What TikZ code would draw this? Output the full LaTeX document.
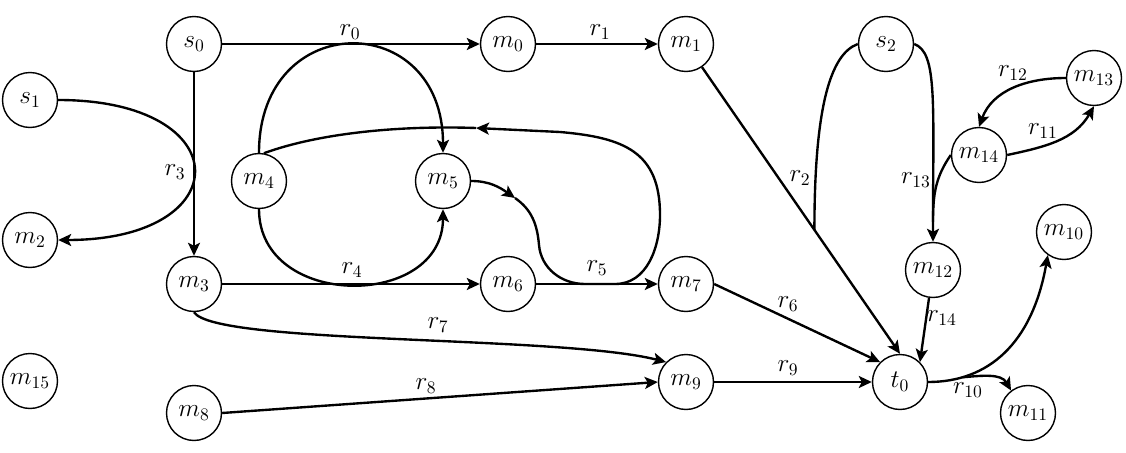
\documentclass[tikz,border=0pt]{standalone}
\usetikzlibrary{arrows.meta,calc}
\begin{document}
\begin{tikzpicture}[x=0.02cm,y=0.02cm,
  st/.style={circle,draw,line width=0.8pt,minimum size=1.1cm,inner sep=0pt,font=\fontsize{14}{16}\selectfont},
  conn/.style={line width=1.35pt},
  arr/.style={-{Stealth[length=2.6mm,width=2.4mm,inset=0.6mm]}},
  lbl/.style={inner sep=0pt,font=\fontsize{14}{16}\selectfont}]
\useasboundingbox (0,0) rectangle (1126,-453);
% nodes
\node[st] (s0) at (194,-44) {$s_0$};
\node[st] (m0) at (508,-44) {$m_0$};
\node[st] (m1) at (686,-44) {$m_1$};
\node[st] (s2) at (886,-44) {$s_2$};
\node[st] (s1) at (30,-100) {$s_1$};
\node[st] (m13) at (1094,-78) {$m_{13}$};
\node[st] (m4) at (259,-181) {$m_4$};
\node[st] (m5) at (443,-181) {$m_5$};
\node[st] (m14) at (979,-155) {$m_{14}$};
\node[st] (m2) at (30,-240) {$m_2$};
\node[st] (m10) at (1064,-232) {$m_{10}$};
\node[st] (m12) at (933,-270) {$m_{12}$};
\node[st] (m3) at (194,-284) {$m_3$};
\node[st] (m6) at (508,-284) {$m_6$};
\node[st] (m7) at (686,-284) {$m_7$};
\node[st] (m15) at (30,-381) {$m_{15}$};
\node[st] (m9) at (686,-382) {$m_9$};
\node[st] (t0) at (900,-382) {$t_0$};
\node[st] (m8) at (194,-413) {$m_8$};
\node[st] (m11) at (1028,-413) {$m_{11}$};
% straight connectors
\draw[conn,arr] (s0) -- (m0);
\draw[conn,arr] (m0) -- (m1);
\draw[conn,arr] (s0) -- (m3);
\draw[conn,arr] (m3) -- (m6);
\draw[conn,arr] (m6) -- (m7);
\draw[conn,arr] (m1) -- (t0.north);
\draw[conn,arr] (m7.east) -- (t0.north west);
\draw[conn,arr] (m9) -- (t0);
\draw[conn,arr] (m12) -- (t0.45);
\draw[conn,arr] (m8.east) -- (m9.west);
% r3
\draw[conn,arr] (s1.east) to[out=0,in=0,distance=3.62cm] (m2.east);
% r0 and r4 arcs
\draw[conn,arr] (m4.north) to[out=90,in=90,distance=2.89cm] (m5.north);
\draw[conn,arr] (m4.south) to[out=-90,in=-90,distance=2.01cm] (m5.south);
% r5 loop
\coordinate (c5a) at (515,-198);
\coordinate (c5b) at (539,-245);
\coordinate (c5c) at (585,-284);
\coordinate (c5d) at (615,-284);
\coordinate (c5e) at (660,-215);
\coordinate (c5g) at (560,-132);
\coordinate (c5h) at (476,-128);
\draw[conn,arr] (m5.east) to[out=0,in=145] (c5a);
\draw[conn,arr] (c5a) to[out=-35,in=95] (c5b) to[out=-85,in=180] (c5c) -- (c5d)
  to[out=0,in=-90] (c5e) to[out=90,in=-5,looseness=1.25] (c5g) -- (c5h);
\draw[conn] (c5h) to[out=178,in=20,out distance=1.5cm,in distance=1.2cm] (m4.80);
% r7
\draw[conn,arr] (m3.south) .. controls (215,-345) and (560,-335) .. (m9.north west);
% r2
\coordinate (j2) at ($(m1)!0.6!(t0.north)$);
\draw[conn] (s2.west) to[out=200,in=90,out distance=0.6cm,in distance=2.4cm] (j2);
% r13
\coordinate (j13) at ($(m12.north)+(0,20)$);
\draw[conn,arr] (s2.east) to[out=-20,in=90,out distance=0.5cm,in distance=2.8cm] (m12.north);
\draw[conn] (m14.west) to[out=235,in=90] (j13);
% r11, r12
\draw[conn,arr] (m14.east) to[out=12,in=-120] (m13.south);
\draw[conn,arr] (m13.west) to[out=180,in=70] (m14.north);
% r10
\draw[conn,arr] (t0.east) to[out=0,in=-100,out distance=1.2cm,in distance=1.8cm] coordinate[pos=0.2] (j10) (m10.235);
\draw[conn,arr] (j10) to[out=5,in=120] (m11.127);
% labels
\node[lbl] (l0) at (350,-32) {$r_0$};
\node[lbl] (l1) at (600,-32) {$r_1$};
\node[lbl] (l2) at (800,-178) {$r_2$};
\node[lbl] (l3) at (175,-172) {$r_3$};
\node[lbl] (l4) at (352,-270) {$r_4$};
\node[lbl] (l5) at (597,-268) {$r_5$};
\node[lbl] (l6) at (788,-304) {$r_6$};
\node[lbl] (l7) at (438,-325) {$r_7$};
\node[lbl] (l8) at (426,-386) {$r_8$};
\node[lbl] (l9) at (788,-368) {$r_9$};
\node[lbl] (l10) at (968,-390) {$r_{10}$};
\node[lbl] (l11) at (1043,-131) {$r_{11}$};
\node[lbl] (l12) at (1013,-73) {$r_{12}$};
\node[lbl] (l13) at (916,-180) {$r_{13}$};
\node[lbl] (l14) at (942,-318) {$r_{14}$};
\end{tikzpicture}
\end{document}
